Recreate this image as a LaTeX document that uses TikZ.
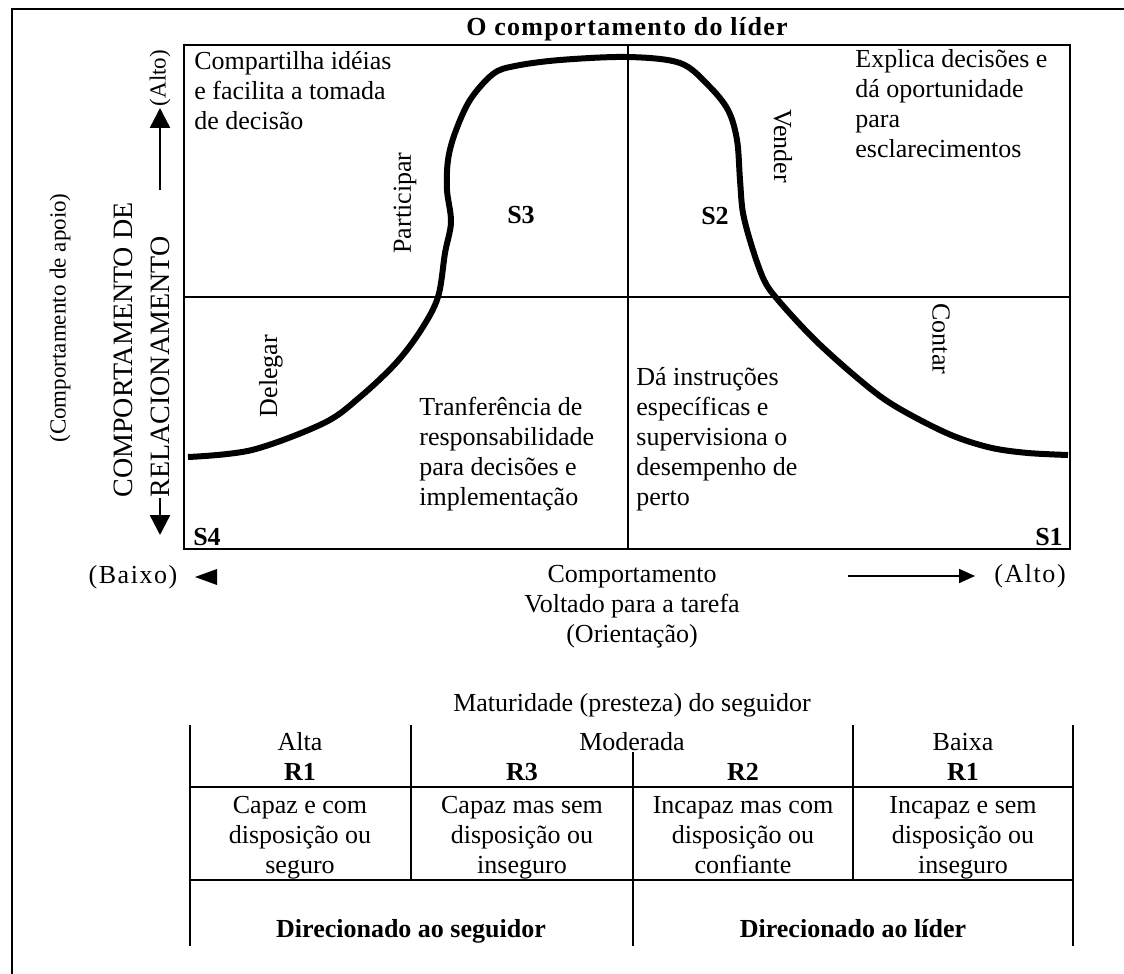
\documentclass[tikz,border=0pt]{standalone}
\usepackage{fontspec}
\setmainfont{Liberation Serif}
\usetikzlibrary{arrows.meta}

\tikzset{
  txt/.style={font=\fontsize{13}{15}\selectfont, inner sep=0pt},
  blk/.style={txt, align=left, anchor=north west},
  ctr/.style={txt, align=center},
  cell/.style={txt, align=center, anchor=north},
  sbold/.style={font=\fontsize{13}{15}\selectfont\bfseries, inner sep=0pt},
  small/.style={font=\fontsize{11.5}{14}\selectfont, inner sep=0pt},
  tline/.style={line width=1.3pt},
  axarr/.style={line width=1pt, -{Triangle[length=8pt,width=7pt]}},
  yarr/.style={line width=1.2pt, -{Triangle[length=10pt,width=10pt]}},
}

\begin{document}
\begin{tikzpicture}[x=0.5pt, y=-0.5pt]
  \useasboundingbox (0,0) rectangle (1124,974);

  % frame of the page
  \draw[line width=1.2pt] (12,974) -- (12,9) -- (1124,9);

  % the four quadrants
  \draw[line width=1.4pt] (184,45) rectangle (1070,549);
  \draw[line width=1pt] (184,297) -- (1070,297);
  \draw[line width=1pt] (628,45) -- (628,549);
  \node[txt, font=\fontsize{13}{15}\selectfont\bfseries\addfontfeature{LetterSpace=5}] (title) at (627,29) {O comportamento do líder};

  % the curve
  \draw[line width=3pt, line join=round] plot[smooth, tension=0.55] coordinates {(188,457) (252,450) (324,423) (360,397) (396,363) (421,330) (438,297) (445,253) (451,222) (447,190) (448,160) (455,133) (470,100) (493,74) (515,66) (560,60) (628,57) (680,63) (708,85) (728,110) (737,140) (740,180) (743,213) (752,247) (764,280) (778,300) (812,337) (848,370) (884,399) (920,420) (956,437) (992,448) (1028,453) (1068,455)};

  % quadrant texts
  \node[blk] (q3txt) at (194,51) {Compartilha idéias\\e facilita a tomada\\de decisão};
  \node[blk] (q2txt) at (855,49) {Explica decisões e\\dá oportunidade\\para\\esclarecimentos};
  \node[blk] (q4txt) at (419,397) {Tranferência de\\responsabilidade\\para decisões e\\implementação};
  \node[blk] (q1txt) at (636,367) {Dá instruções\\específicas e\\supervisiona o\\desempenho de\\perto};

  \node[txt, rotate=90] (part) at (405,203) {Participar};
  \node[txt, rotate=-90] (vend) at (783,146) {Vender};
  \node[txt, rotate=90] (deleg) at (271,376) {Delegar};
  \node[txt, rotate=-90] (cont) at (941,339) {Contar};

  \node[sbold] (s3) at (521,215) {S3};
  \node[sbold] (s2) at (715,216) {S2};
  \node[sbold] (s4) at (207,537) {S4};
  \node[sbold] (s1) at (1049,537) {S1};

  % vertical axis
  \node[small, rotate=90] (yhi) at (160,78) {(Alto)};
  \coordinate (yup) at (160,190);
  \draw[yarr] (yup) -- (160,108);
  \node[txt, font=\fontsize{14}{18.5}\selectfont, align=left, rotate=90] (ylab) at (142,350) {COMPORTAMENTO DE\\RELACIONAMENTO};
  \coordinate (ydn) at (160,498);
  \draw[yarr] (ydn) -- (160,535);
  \node[small, rotate=90] (ysub) at (60,318) {(Comportamento de apoio)};

  % horizontal axis
  \node[txt, font=\fontsize{13}{15}\selectfont\addfontfeature{LetterSpace=6}] (xlo) at (133,577) {(Baixo)};
  \fill (195,577) -- (217,569) -- (217,585) -- cycle;
  \node[ctr] (xlab) at (632,607) {Comportamento\\Voltado para a tarefa\\(Orientação)};
  \coordinate (xr) at (848,576);
  \node[txt, font=\fontsize{13}{15}\selectfont\addfontfeature{LetterSpace=6}] (xhi) at (1030,576) {(Alto)};
  \draw[axarr] (xr) -- (975,576);

  % maturity table
  \node[txt] (mat) at (632,705) {Maturidade (presteza) do seguidor};
  \draw[tline] (190,725) -- (190,946);
  \draw[tline] (411,725) -- (411,880);
  \draw[tline] (633,752) -- (633,946);
  \draw[tline] (853,725) -- (853,880);
  \draw[tline] (1073,725) -- (1073,946);
  \draw[tline] (190,787) -- (1073,787);
  \draw[tline] (190,880) -- (1073,880);

  \node[txt, anchor=base] (alta) at (300,750) {Alta};
  \node[txt, anchor=base] (mode) at (632,750) {Moderada};
  \node[txt, anchor=base] (baix) at (963,750) {Baixa};
  \node[sbold, anchor=base] (r1a) at (300,780) {R1};
  \node[sbold, anchor=base] (r3) at (522,780) {R3};
  \node[sbold, anchor=base] (r2) at (743,780) {R2};
  \node[sbold, anchor=base] (r1b) at (963,780) {R1};

  \node[cell] (d1) at (300,796) {Capaz e com\\disposição ou\\seguro};
  \node[cell] (d2) at (522,796) {Capaz mas sem\\disposição ou\\inseguro};
  \node[cell] (d3) at (743,796) {Incapaz mas com\\disposição ou\\confiante};
  \node[cell] (d4) at (963,796) {Incapaz e sem\\disposição ou\\inseguro};

  \node[sbold, anchor=base] (fol) at (411,937) {Direcionado ao seguidor};
  \node[sbold, anchor=base] (lid) at (853,937) {Direcionado ao líder};
\end{tikzpicture}
\end{document}
